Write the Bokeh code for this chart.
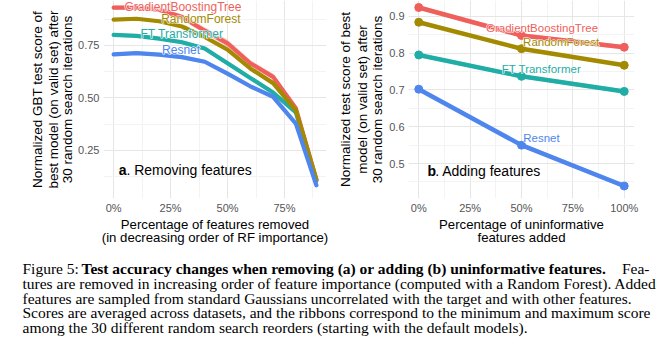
import math
from bokeh.plotting import figure
from bokeh.layouts import column, row
from bokeh.models import FixedTicker, NumeralTickFormatter, Range1d
from bokeh.core.properties import value
from bokeh.embed import file_html
from bokeh.resources import INLINE

# ---------------- data ----------------
models = ["FT Transformer", "GradientBoostingTree", "RandomForest", "Resnet"]
model_colors = ["#1FADA5", "#EF5F5C", "#A38A00", "#4E86EE"]

# panel a: removing features
removed_pct = [0.0, 0.1, 0.2, 0.3, 0.4, 0.5, 0.6, 0.7, 0.8, 0.89]
rm_ft = [0.800, 0.795, 0.782, 0.765, 0.735, 0.665, 0.595, 0.525, 0.430, 0.105]
rm_ft_lo = [0.792, 0.787, 0.774, 0.756, 0.726, 0.655, 0.586, 0.516, 0.422, 0.100]
rm_ft_hi = [0.808, 0.803, 0.790, 0.774, 0.744, 0.675, 0.604, 0.534, 0.438, 0.110]
rm_gbt = [0.930, 0.930, 0.920, 0.885, 0.820, 0.760, 0.665, 0.600, 0.450, 0.110]
rm_gbt_lo = [0.920, 0.920, 0.908, 0.872, 0.805, 0.742, 0.650, 0.585, 0.440, 0.104]
rm_gbt_hi = [0.940, 0.940, 0.932, 0.898, 0.836, 0.778, 0.680, 0.615, 0.460, 0.116]
rm_rf = [0.873, 0.877, 0.865, 0.840, 0.790, 0.730, 0.640, 0.570, 0.440, 0.110]
rm_rf_lo = [0.868, 0.872, 0.860, 0.835, 0.784, 0.724, 0.634, 0.564, 0.435, 0.106]
rm_rf_hi = [0.878, 0.882, 0.870, 0.845, 0.796, 0.736, 0.646, 0.576, 0.445, 0.114]
rm_resnet = [0.707, 0.713, 0.706, 0.694, 0.672, 0.615, 0.555, 0.505, 0.377, 0.083]
rm_resnet_lo = [0.698, 0.704, 0.697, 0.684, 0.662, 0.604, 0.545, 0.496, 0.369, 0.077]
rm_resnet_hi = [0.716, 0.722, 0.715, 0.704, 0.682, 0.626, 0.565, 0.514, 0.385, 0.089]

# panel b: adding features
added_pct = [0.0, 0.5, 1.0]
add_ft = [0.795, 0.737, 0.696]
add_ft_lo = [0.790, 0.732, 0.690]
add_ft_hi = [0.800, 0.742, 0.702]
add_gbt = [0.924, 0.848, 0.816]
add_gbt_lo = [0.918, 0.842, 0.810]
add_gbt_hi = [0.930, 0.854, 0.822]
add_rf = [0.884, 0.812, 0.767]
add_rf_lo = [0.880, 0.808, 0.763]
add_rf_hi = [0.888, 0.816, 0.771]
add_resnet = [0.702, 0.550, 0.439]
add_resnet_lo = [0.697, 0.544, 0.432]
add_resnet_hi = [0.707, 0.556, 0.446]

# tick labels / texts
a_xticks = [0.0, 0.25, 0.5, 0.75]
a_yticks = [0.25, 0.5, 0.75]
b_xticks = [0.0, 0.25, 0.5, 0.75, 1.0]
b_yticks = [0.5, 0.6, 0.7, 0.8, 0.9]

a_ylabel_lines = ["Normalized GBT test score of", "best model (on valid set) after", "30 random search iterations"]
a_xlabel = "Percentage of features removed\n(in decreasing order of RF importance)"
b_ylabel_lines = ["Normalized test score of best", "model (on valid set) after", "30 random search iterations"]
b_xlabel = "Percentage of uninformative\nfeatures added"

# label placement (annotation layout)
a_label_pos = {"GradientBoostingTree": (0.304, 0.933), "RandomForest": (0.383, 0.874),
               "FT Transformer": (0.300, 0.806), "Resnet": (0.296, 0.730)}
b_label_pos = {"GradientBoostingTree": (0.600, 0.867), "RandomForest": (0.693, 0.829),
               "FT Transformer": (0.597, 0.756), "Resnet": (0.597, 0.569)}

SANS = "Liberation Sans"
SERIF = "Liberation Serif"
H = 250
BOTTOM = 52
FRAME_H = H - BOTTOM


def style(p, xticks, xminor, yticks, yminor, yfmt, xlabel):
    p.outline_line_color = None
    p.background_fill_color = "white"
    p.border_fill_color = "white"
    p.xaxis.ticker = FixedTicker(ticks=xticks, minor_ticks=xminor)
    p.yaxis.ticker = FixedTicker(ticks=yticks, minor_ticks=yminor)
    p.xaxis.formatter = NumeralTickFormatter(format="0%")
    p.yaxis.formatter = NumeralTickFormatter(format=yfmt)
    for ax in (p.xaxis, p.yaxis):
        ax.axis_line_color = None
        ax.major_tick_line_color = None
        ax.minor_tick_line_color = None
        ax.major_tick_out = 0
        ax.major_tick_in = 0
        ax.minor_tick_out = 0
        ax.minor_tick_in = 0
        ax.major_label_text_font = SANS
        ax.major_label_text_font_size = "11px"
        ax.major_label_text_color = "#555555"
    ax = p.xaxis
    ax.axis_label_text_font = SANS
    ax.axis_label_text_font_size = "13.2px"
    ax.axis_label_text_font_style = "normal"
    ax.axis_label_text_color = "black"
    ax.axis_label_text_align = "center"
    ax.axis_label_text_line_height = 0.92
    p.xaxis.major_label_standoff = 3
    p.yaxis.major_label_standoff = 4
    p.xaxis.axis_label_standoff = 0
    p.yaxis.axis_label_standoff = 0
    p.xaxis.axis_label = xlabel
    for g in (p.xgrid, p.ygrid):
        g.grid_line_color = "#E6E6E6"
        g.grid_line_width = 1
        g.minor_grid_line_color = "#F3F3F3"
        g.minor_grid_line_width = 1


def y_title(width, xs, lines):
    t = figure(width=width, height=H, x_range=Range1d(0, width), y_range=Range1d(FRAME_H, 0),
               output_backend="svg", toolbar_location=None,
               min_border_left=0, min_border_right=0, min_border_top=0, min_border_bottom=BOTTOM)
    t.axis.visible = False
    t.grid.visible = False
    t.outline_line_color = None
    t.text(x=xs, y=[99, 99, 99], text=lines, angle=math.pi / 2, text_font=value(SANS),
           text_font_size="13.5px", text_align="center", text_baseline="middle", text_color="black")
    return t


def add_labels(p, pos, size):
    for m, c in zip(models, model_colors):
        x, y = pos[m]
        p.text(x=[x], y=[y], text=[m], text_color="white", text_font=value(SANS), text_font_size=size,
               text_align="center", text_baseline="middle", text_outline_color="white")
        p.text(x=[x], y=[y], text=[m], text_color=c, text_font=value(SANS), text_font_size=size,
               text_align="center", text_baseline="middle")


# ---------------- panel a ----------------
t1 = y_title(75, [37, 53, 67.3], a_ylabel_lines)
p1 = figure(width=255, height=H, x_range=Range1d(-0.0445, 0.9345), y_range=Range1d(0.02, 0.964),
            output_backend="svg", toolbar_location=None,
            min_border_left=26, min_border_right=4, min_border_top=0, min_border_bottom=BOTTOM)
style(p1, a_xticks, [0.125, 0.375, 0.625, 0.875], a_yticks, [0.125, 0.375, 0.625, 0.875], "0.00",
      a_xlabel)

a_series = [(rm_ft, rm_ft_lo, rm_ft_hi), (rm_gbt, rm_gbt_lo, rm_gbt_hi),
            (rm_rf, rm_rf_lo, rm_rf_hi), (rm_resnet, rm_resnet_lo, rm_resnet_hi)]
for (ys, lo, hi), c in zip(a_series, model_colors):
    p1.varea(x=removed_pct, y1=lo, y2=hi, fill_color=c, fill_alpha=0.3)
for (ys, lo, hi), c in zip(a_series, model_colors):
    p1.line(x=removed_pct, y=ys, line_color=c, line_width=4.2, line_join="round", line_cap="round")

add_labels(p1, a_label_pos, "12px")

p1.text(x=[0.022], y=[0.155], text=["a"], text_font=value(SANS), text_font_size="14px",
        text_font_style="bold", text_align="left", text_baseline="middle", text_color="black")
p1.text(x=[0.022], y=[0.155], text=[". Removing features"], x_offset=7.8, text_font=value(SANS),
        text_font_size="14px", text_align="left", text_baseline="middle", text_color="black")

# ---------------- panel b ----------------
t2 = y_title(56, [15, 31.7, 46.7], b_ylabel_lines)
p2 = figure(width=279, height=H, x_range=Range1d(-0.05, 1.05), y_range=Range1d(0.405, 0.943),
            output_backend="svg", toolbar_location=None,
            min_border_left=22, min_border_right=31, min_border_top=0, min_border_bottom=BOTTOM)
style(p2, b_xticks, [0.125, 0.375, 0.625, 0.875], b_yticks, [0.45, 0.55, 0.65, 0.75, 0.85], "0.0",
      b_xlabel)

b_series = [(add_ft, add_ft_lo, add_ft_hi), (add_gbt, add_gbt_lo, add_gbt_hi),
            (add_rf, add_rf_lo, add_rf_hi), (add_resnet, add_resnet_lo, add_resnet_hi)]
for (ys, lo, hi), c in zip(b_series, model_colors):
    p2.varea(x=added_pct, y1=lo, y2=hi, fill_color=c, fill_alpha=0.3)
for (ys, lo, hi), c in zip(b_series, model_colors):
    p2.line(x=added_pct, y=ys, line_color=c, line_width=4.5, line_join="round", line_cap="round")
    p2.scatter(x=added_pct, y=ys, size=8, fill_color=c, line_color=c)

add_labels(p2, b_label_pos, "11.5px")

p2.text(x=[0.042], y=[0.481], text=["b"], text_font=value(SANS), text_font_size="14px",
        text_font_style="bold", text_align="left", text_baseline="middle", text_color="black")
p2.text(x=[0.042], y=[0.481], text=[". Adding features"], x_offset=7.8, text_font=value(SANS),
        text_font_size="14px", text_align="left", text_baseline="middle", text_color="black")

# ---------------- caption ----------------
cap_lines = [
    "tures are removed in increasing order of feature importance (computed with a Random Forest). Added",
    "features are sampled from standard Gaussians uncorrelated with the target and with other features.",
    "Scores are averaged across datasets, and the ribbons correspond to the minimum and maximum score",
    "among the 30 different random search reorders (starting with the default models).",
]
cap_first_normal = "Figure 5:"
cap_first_bold = "Test accuracy changes when removing (a) or adding (b) uninformative features."
cap_first_tail = "Fea-"

p3 = figure(width=665, height=100, x_range=Range1d(0, 665), y_range=Range1d(100, 0),
            output_backend="svg", toolbar_location=None, min_border=0)
p3.axis.visible = False
p3.grid.visible = False
p3.outline_line_color = None
cap_kw = dict(text_font=value(SERIF), text_font_size="15.5px", text_baseline="middle", text_color="black")
p3.text(x=[22], y=[18.3], text=[cap_first_normal], text_align="left", **cap_kw)
p3.text(x=[81], y=[18.3], text=[cap_first_bold], text_align="left", text_font_style="bold", **cap_kw)
p3.text(x=[649], y=[18.3], text=[cap_first_tail], text_align="right", **cap_kw)
p3.text(x=[22, 22, 22, 22], y=[33.0, 47.6, 62.2, 76.7], text=cap_lines, text_align="left", **cap_kw)

layout = column(row(t1, p1, t2, p2), p3)
open("out.html", "w").write(file_html(layout, INLINE))
